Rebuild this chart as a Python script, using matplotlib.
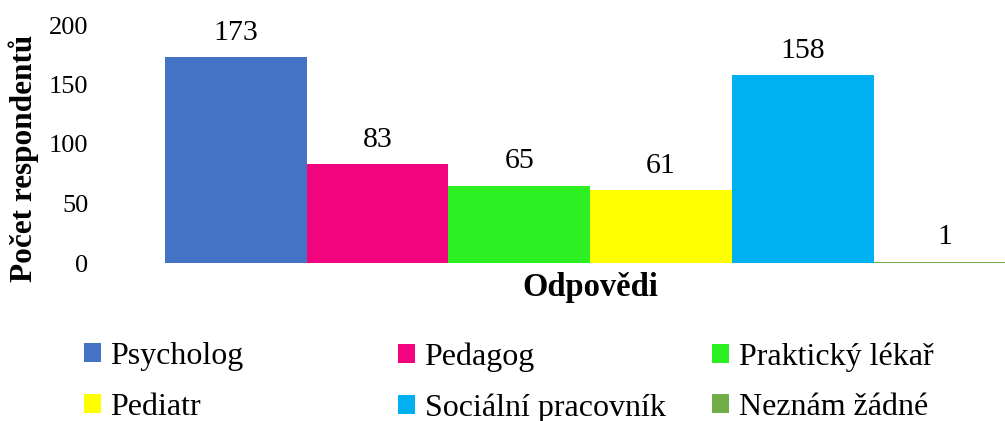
import matplotlib
matplotlib.use("Agg")
import matplotlib.pyplot as plt
from matplotlib.patches import Patch

categories = ["Psycholog", "Pedagog", "Praktický lékař", "Pediatr", "Sociální pracovník", "Neznám žádné"]
counts = [173, 83, 65, 61, 158, 1]
colors = ["#4472C4", "#F2047F", "#2DF023", "#FFFF00", "#00B0F0", "#70AD47"]
y_ticks = [0, 50, 100, 150, 200]

plt.rcParams["font.family"] = ["Liberation Serif", "DejaVu Serif"]

fig = plt.figure(figsize=(10.05, 4.21), dpi=100)
ax = fig.add_axes([165 / 1005, 1 - 263 / 421, 840 / 1005, 238 / 421])

positions = list(range(len(categories)))
ax.bar(positions, counts, width=1.0, color=colors, linewidth=0)
for x, v in zip(positions, counts):
	ax.annotate(str(v), (x, v), xytext=(0, 12.5), textcoords="offset points",
		ha="center", va="baseline", fontsize=21.5, annotation_clip=False)

ax.set_xlim(-0.5, -0.5 + 840 / 141.7)
ax.set_ylim(0, 200)
ax.set_yticks(y_ticks)
ax.set_xticks([])
ax.tick_params(axis="y", length=0, pad=55, labelsize=19)
for s in ax.spines.values():
	s.set_visible(False)

fig.text(24 / 1005, 1 - 158 / 421, "Počet respondentů", rotation=90,
	ha="center", va="center", fontsize=22.5, fontweight="bold")
fig.text(590 / 1005, 1 - 296 / 421, "Odpovědi", ha="center", va="baseline",
	fontsize=23.5, fontweight="bold")

# legend: three columns, two rows, filled row-wise
col_x = [84 / 1005, 398 / 1005, 712 / 1005]
for col in range(3):
	handles = []
	for row in range(2):
		i = row * 3 + col
		handles.append(Patch(facecolor=colors[i], edgecolor="none", label=categories[i]))
	leg = fig.legend(handles=handles, loc="upper left", bbox_to_anchor=(col_x[col], 1 - 342 / 421),
		frameon=False, fontsize=23, handlelength=0.53, handleheight=0.53,
		handletextpad=0.3, labelspacing=0.68, borderpad=0, borderaxespad=0)

fig.savefig("out.png", dpi=100)
